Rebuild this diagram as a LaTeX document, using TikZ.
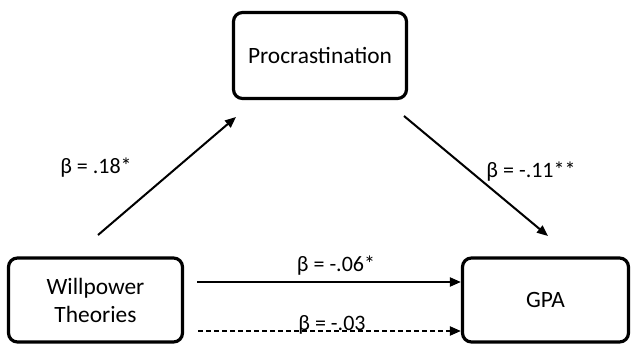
\documentclass[tikz,border=0pt]{standalone}
\usepackage{fontspec}
\setmainfont{Carlito}
\usetikzlibrary{arrows.meta}
\begin{document}
\begin{tikzpicture}[x=1pt,y=-1pt,
  box/.style={draw=black,line width=3.2pt,rounded corners=9pt,align=center,
    font=\fontsize{23.4}{28}\selectfont,inner sep=0pt},
  conn/.style={line width=2pt,-{Triangle[length=11pt,width=9pt]}},
  lbl/.style={font=\fontsize{22}{26}\selectfont,inner sep=0pt}]
\useasboundingbox (0,0) rectangle (631,345);
\node[box,minimum width=173pt,minimum height=86pt] (P) at (320,55.5) {Procrastination};
\node[box,minimum width=174pt,minimum height=84pt] (W) at (95.5,300) {Willpower\\Theories};
\node[box,minimum width=166pt,minimum height=84pt] (G) at (545.5,300) {GPA};
\coordinate (a1) at (98,235);
\coordinate (a2) at (236,117);
\coordinate (b1) at (404,116);
\coordinate (b2) at (548,236);
\coordinate (c1) at (197,282);
\coordinate (d1) at (198,331);
\draw[conn] (a1) -- (a2);
\draw[conn] (b1) -- (b2);
\draw[conn] (c1) -- (c1 -| G.west);
\draw[conn,dash pattern=on 5pt off 3pt] (d1) -- (d1 -| G.west);
\node[lbl] (l1) at (96,168) {β = .18*};
\node[lbl] (l2) at (531,172) {β = -.11**};
\node[lbl] (l3) at (336,266) {β = -.06*};
\node[lbl,anchor=base] (l4) at (332,330) {β = -.03};
\end{tikzpicture}
\end{document}
